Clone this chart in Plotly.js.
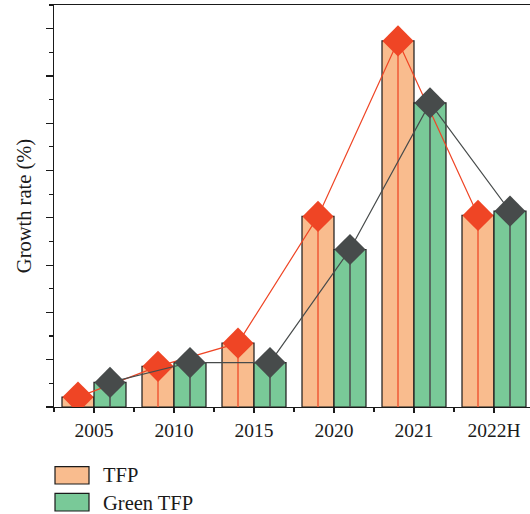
<!DOCTYPE html>
<html>
<head>
<meta charset="utf-8">
<script src="https://cdn.plot.ly/plotly-3.0.1.min.js"></script>
<style>
html,body{margin:0;padding:0;overflow:hidden;background:#fff;}
#chart{width:540px;height:514px;}
</style>
</head>
<body>
<div id="chart"></div>
<script>
var categories = ['2005', '2010', '2015', '2020', '2021', '2022H'];
var tfp = [0.21, 0.86, 1.35, 4.03, 7.74, 4.05];
var greenTfp = [0.52, 0.94, 0.94, 3.33, 6.43, 4.14];
var seriesNames = ['TFP', 'Green TFP'];

var barFill = ['#f9bc8e', '#79c998'];
var markColor = ['#ef4525', '#474b4b'];
var dropColor = ['#f0603c', '#4f5353'];

var W = 540, H = 514;
var M = {l: 54, r: 6, t: 5, b: 107};
var pw = W - M.l - M.r, ph = H - M.t - M.b;
function px2x(p) { return (p - M.l) / pw; }
function px2y(p) { return (H - M.b - p) / ph; }

var idx = categories.map(function (c, i) { return i; });
var xL = idx.map(function (i) { return i - 0.2; });
var xR = idx.map(function (i) { return i + 0.2; });
var series = [tfp, greenTfp];
var xs = [xL, xR];

var traces = [];
series.forEach(function (vals, s) {
  traces.push({
    type: 'bar', x: xs[s], y: vals, width: 0.4, name: seriesNames[s],
    marker: {color: barFill[s], line: {color: '#1a1a1a', width: 1.2}},
    showlegend: false, hoverinfo: 'skip'
  });
});
series.forEach(function (vals, s) {
  traces.push({
    type: 'scatter', mode: 'lines+markers', x: xs[s], y: vals, name: seriesNames[s],
    line: {color: markColor[s], width: 1.2},
    marker: {symbol: 'diamond', size: 24, color: markColor[s], line: {width: 0}},
    error_y: {type: 'data', symmetric: false, array: vals.map(function () { return 0; }),
      arrayminus: vals, width: 0, thickness: 1.6, color: dropColor[s]},
    showlegend: false, hoverinfo: 'skip'
  });
});

var fam = '"Liberation Serif", "Times New Roman", serif';
var tickFont = {family: fam, size: 19.5, color: '#1a1a1a'};
var textFont = {family: fam, size: 20.5, color: '#1a1a1a'};

var shapes = [], annotations = [];
var boxes = [[466.7, 484], [493.3, 511]];
var textY = [474.5, 502.5];
seriesNames.forEach(function (n, s) {
  shapes.push({type: 'rect', xref: 'paper', yref: 'paper',
    x0: px2x(55), x1: px2x(89), y0: px2y(boxes[s][1]), y1: px2y(boxes[s][0]),
    fillcolor: barFill[s], line: {color: '#1a1a1a', width: 1.2}});
  annotations.push({xref: 'paper', yref: 'paper', x: px2x(101), y: px2y(textY[s]),
    xanchor: 'left', yanchor: 'middle', showarrow: false, text: n, font: textFont});
});

var layout = {
  width: W, height: H,
  margin: M,
  paper_bgcolor: '#fff', plot_bgcolor: '#fff',
  barmode: 'overlay',
  font: tickFont,
  showlegend: false,
  xaxis: {
    range: [-0.5, 5.5], tickmode: 'array', tickvals: idx, ticktext: categories,
    ticks: 'outside', ticklen: 5, tickwidth: 1.2, tickcolor: '#1a1a1a',
    minor: {tickmode: 'linear', tick0: -0.5, dtick: 1, ticks: 'outside', ticklen: 4, tickwidth: 1.2, tickcolor: '#1a1a1a'},
    showline: true, linecolor: '#1a1a1a', linewidth: 1.3, mirror: true,
    showgrid: false, zeroline: false, tickfont: tickFont, fixedrange: true
  },
  yaxis: {
    range: [0, 8.5], tickmode: 'linear', tick0: 0, dtick: 1, showticklabels: false,
    ticks: 'outside', ticklen: 7, tickwidth: 1.2, tickcolor: '#1a1a1a',
    minor: {tickmode: 'linear', tick0: 0.5, dtick: 1, ticks: 'outside', ticklen: 4, tickwidth: 1.2, tickcolor: '#1a1a1a'},
    showline: true, linecolor: '#1a1a1a', linewidth: 1.3, mirror: true,
    showgrid: false, zeroline: false, fixedrange: true,
    title: {text: 'Growth rate (%)', font: textFont, standoff: 8}
  },
  shapes: shapes,
  annotations: annotations
};

Plotly.newPlot('chart', traces, layout, {staticPlot: true, displayModeBar: false});
</script>
</body>
</html>
